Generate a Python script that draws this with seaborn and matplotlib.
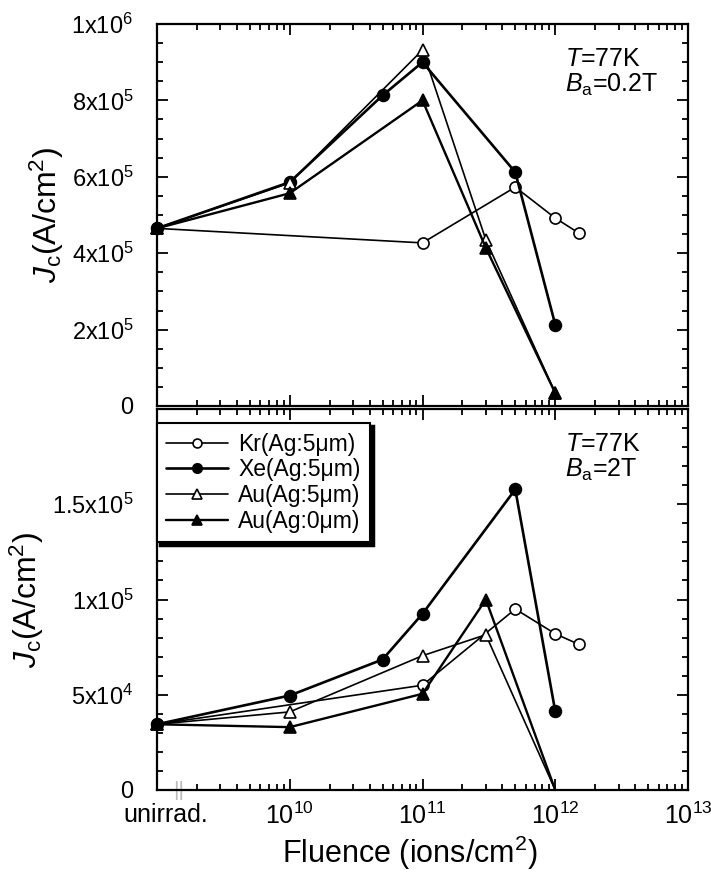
import numpy as np
import pandas as pd
import matplotlib
matplotlib.use('Agg')
import matplotlib.pyplot as plt
import seaborn as sns
from matplotlib.ticker import FixedLocator, FixedFormatter, LogLocator, MultipleLocator, NullFormatter
import matplotlib.transforms as mtransforms

sns.set_theme(style='ticks')
plt.rcParams['font.family'] = ['Liberation Sans', 'DejaVu Sans']
plt.rcParams['mathtext.fontset'] = 'custom'
plt.rcParams['mathtext.rm'] = 'Liberation Sans'
plt.rcParams['mathtext.it'] = 'Liberation Sans:italic'
plt.rcParams['mathtext.bf'] = 'Liberation Sans:bold'
for k in ['text.color', 'axes.labelcolor', 'xtick.color', 'ytick.color', 'axes.edgecolor']:
    plt.rcParams[k] = 'black'

# ---------------- data ----------------
# "unirrad." is placed at the 1e9 position of the fluence axis
UNIRRAD = 1e9

series_names = ['Kr(Ag:5μm)', 'Xe(Ag:5μm)', 'Au(Ag:5μm)', 'Au(Ag:0μm)']

# Top panel: B_a = 0.2 T
kr_x_top = [UNIRRAD, 1e11, 5e11, 1e12, 1.5e12]
kr_y_top = [4.65e5, 4.27e5, 5.73e5, 4.92e5, 4.53e5]
xe_x_top = [UNIRRAD, 1e10, 5e10, 1e11, 5e11, 1e12]
xe_y_top = [4.65e5, 5.86e5, 8.13e5, 9.0e5, 6.12e5, 2.13e5]
au5_x_top = [UNIRRAD, 1e10, 1e11, 3e11, 1e12]
au5_y_top = [4.65e5, 5.84e5, 9.32e5, 4.35e5, 3.4e4]
au0_x_top = [UNIRRAD, 1e10, 1e11, 3e11, 1e12]
au0_y_top = [4.65e5, 5.57e5, 8.0e5, 4.14e5, 3.4e4]

# Bottom panel: B_a = 2 T
kr_x_bot = [UNIRRAD, 1e11, 5e11, 1e12, 1.5e12]
kr_y_bot = [3.45e4, 5.5e4, 9.5e4, 8.2e4, 7.65e4]
xe_x_bot = [UNIRRAD, 1e10, 5e10, 1e11, 5e11, 1e12]
xe_y_bot = [3.45e4, 4.96e4, 6.85e4, 9.25e4, 1.578e5, 4.13e4]
au5_x_bot = [UNIRRAD, 1e10, 1e11, 3e11, 1e12]
au5_y_bot = [3.45e4, 4.1e4, 7.05e4, 8.15e4, 0.0]
au0_x_bot = [UNIRRAD, 1e10, 1e11, 3e11, 1e12]
au0_y_bot = [3.45e4, 3.3e4, 5.05e4, 1.0e5, 0.0]

x_tick_vals = [1e9, 1e10, 1e11, 1e12, 1e13]
x_tick_labels = ['unirrad.', r'10$^{10}$', r'10$^{11}$', r'10$^{12}$', r'10$^{13}$']
top_ytick_vals = [0, 2e5, 4e5, 6e5, 8e5, 1e6]
top_ytick_labels = ['0', r'2x10$^{5}$', r'4x10$^{5}$', r'6x10$^{5}$', r'8x10$^{5}$', r'1x10$^{6}$']
bot_ytick_vals = [0, 5e4, 1e5, 1.5e5]
bot_ytick_labels = ['0', r'5x10$^{4}$', r'1x10$^{5}$', r'1.5x10$^{5}$']

# ---------------- styles ----------------
styles = {
    'Kr(Ag:5μm)': dict(marker='o', mfc='white', lw=1.2, ms=8),
    'Xe(Ag:5μm)': dict(marker='o', mfc='black', lw=1.9, ms=8.5),
    'Au(Ag:5μm)': dict(marker='^', mfc='white', lw=1.2, ms=8.5),
    'Au(Ag:0μm)': dict(marker='^', mfc='black', lw=1.7, ms=8.5),
}

fig = plt.figure(figsize=(7.11, 8.75), dpi=100)
L, W = 157 / 711, (688 - 157) / 711
ax_top = fig.add_axes([L, 1 - 406 / 875, W, (406 - 24) / 875])
ax_bot = fig.add_axes([L, 1 - 790 / 875, W, (790 - 409) / 875])

panels = [
    (ax_top, [(kr_x_top, kr_y_top), (xe_x_top, xe_y_top), (au5_x_top, au5_y_top), (au0_x_top, au0_y_top)]),
    (ax_bot, [(kr_x_bot, kr_y_bot), (xe_x_bot, xe_y_bot), (au5_x_bot, au5_y_bot), (au0_x_bot, au0_y_bot)]),
]

handles = []
for ax, data in panels:
    ax.set_xscale('log')
    for name, (xs, ys) in zip(series_names, data):
        st = styles[name]
        df = pd.DataFrame({'fluence': xs, 'jc': ys})
        visible = [i for i, v in enumerate(ys) if v > 0]
        sns.lineplot(data=df, x='fluence', y='jc', ax=ax, color='black', sort=False,
                     estimator=None, lw=st['lw'], marker=st['marker'], markersize=st['ms'],
                     markerfacecolor=st['mfc'], markeredgecolor='black', markeredgewidth=1.2,
                     markevery=visible, clip_on=False, zorder=3)
        if ax is ax_bot:
            handles.append(ax.lines[-1])

for ax in (ax_top, ax_bot):
    ax.set_xlim(1e9, 1e13)
    ax.xaxis.set_major_locator(FixedLocator(x_tick_vals))
    ax.xaxis.set_minor_locator(LogLocator(base=10, subs=np.arange(2, 10), numticks=50))
    ax.xaxis.set_minor_formatter(NullFormatter())
    ax.tick_params(which='both', direction='in', top=True, right=True, colors='black',
                   width=1.3, labelsize=17)
    ax.tick_params(which='major', length=8)
    ax.tick_params(which='minor', length=4.5)
    ax.tick_params(axis='y', pad=17)
    ax.tick_params(axis='x', pad=9, labelsize=18)
    for sp in ax.spines.values():
        sp.set_linewidth(1.6)
        sp.set_color('black')
    ax.set_xlabel('')
    ax.set_ylabel(r'$J_{\mathrm{c}}$(A/cm$^{2}$)', fontsize=23, labelpad=4)

ax_top.set_ylim(0, 1e6)
ax_top.yaxis.set_major_locator(FixedLocator(top_ytick_vals))
ax_top.yaxis.set_major_formatter(FixedFormatter(top_ytick_labels))
ax_top.yaxis.set_minor_locator(MultipleLocator(5e4))
ax_top.xaxis.set_major_formatter(NullFormatter())

ax_bot.set_ylim(0, 2e5)
ax_bot.yaxis.set_major_locator(FixedLocator(bot_ytick_vals + [2e5]))
ax_bot.yaxis.set_major_formatter(FixedFormatter(bot_ytick_labels + ['']))
ax_bot.yaxis.set_minor_locator(MultipleLocator(1e4))
ax_bot.xaxis.set_major_formatter(FixedFormatter(x_tick_labels))
ax_bot.set_xlabel(r'Fluence (ions/cm$^{2}$)', fontsize=22)
ax_bot.xaxis.set_label_coords(0.476, -0.115)

# nudge the "unirrad." label to the right like the original
fig.canvas.draw()
lab0 = ax_bot.get_xticklabels()[0]
lab0.set_transform(lab0.get_transform() + mtransforms.ScaledTranslation(9 / 100, 0, fig.dpi_scale_trans))

# condition annotations
ax_top.text(0.768, 0.94, r'$T$=77K' + '\n' + r'$B_{\mathrm{a}}$=0.2T', transform=ax_top.transAxes,
            ha='left', va='top', fontsize=18, linespacing=1.05)
ax_bot.text(0.768, 0.94, r'$T$=77K' + '\n' + r'$B_{\mathrm{a}}$=2T', transform=ax_bot.transAxes,
            ha='left', va='top', fontsize=18, linespacing=1.05)

# axis break mark near the origin of the fluence axis
trans = mtransforms.blended_transform_factory(ax_bot.transData, ax_bot.transAxes)
ax_bot.text(1.45e9, 0.0, '||', transform=trans, ha='center', va='center',
            fontsize=15, color='#bbbbbb', zorder=1)

leg = ax_bot.legend(handles, series_names, loc='upper left', bbox_to_anchor=(0.0, 0.962),
                    borderaxespad=0, fontsize=16.5, frameon=True, fancybox=False,
                    shadow={'color': 'black', 'alpha': 1.0, 'linewidth': 2.5},
                    markerscale=0.8, handlelength=2.7, handletextpad=0.45, labelspacing=0.12,
                    borderpad=0.4)
leg.get_frame().set_edgecolor('black')
leg.get_frame().set_linewidth(1.5)
leg.get_frame().set_facecolor('white')
leg.set_zorder(5)

fig.savefig('out.png', dpi=100)
